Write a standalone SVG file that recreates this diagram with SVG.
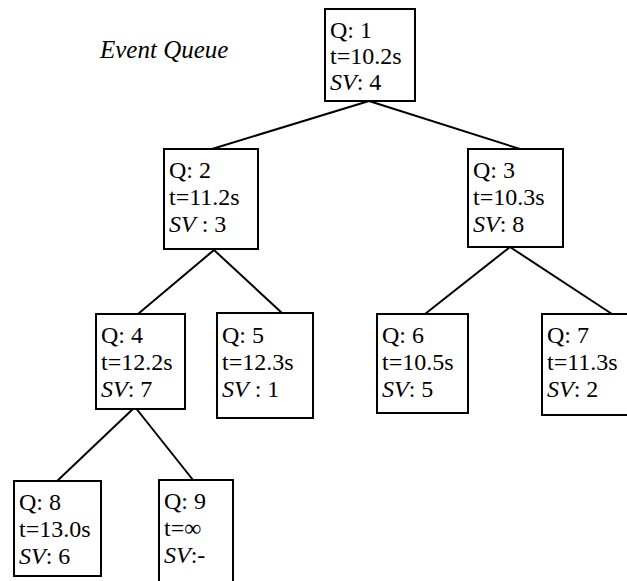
<svg xmlns="http://www.w3.org/2000/svg" width="627" height="581" viewBox="0 0 627 581">
<style>
.box{fill:#fff;stroke:#000;stroke-width:2}
.i{font-style:italic}
.edge{stroke:#000;stroke-width:2;fill:none}
</style>
<rect width="627" height="581" fill="#fff"/>
<g font-family="Liberation Serif, Times New Roman, Times, DejaVu Serif, serif" font-size="24" fill="#000">
<text x="100" y="58" font-size="25" font-style="italic">Event Queue</text>
<g id="connectors">
<line class="edge" x1="369" y1="101" x2="212" y2="149"/>
<line class="edge" x1="369" y1="101" x2="520" y2="149"/>
<line class="edge" x1="214" y1="250" x2="138" y2="314"/>
<line class="edge" x1="214" y1="250" x2="282" y2="313"/>
<line class="edge" x1="510" y1="247" x2="425" y2="314"/>
<line class="edge" x1="510" y1="247" x2="612" y2="314"/>
<line class="edge" x1="135" y1="407" x2="55" y2="483"/>
<line class="edge" x1="135" y1="407" x2="193" y2="480"/>
</g>
<g id="n1">
<rect class="box" x="325" y="9" width="90" height="92"/>
<text x="330" y="38">Q: 1</text>
<text x="330" y="64">t=10.2s</text>
<text x="330" y="90"><tspan class="i">SV</tspan>: 4</text>
</g>
<g id="n2">
<rect class="box" x="164" y="149" width="94" height="100"/>
<text x="169" y="178">Q: 2</text>
<text x="169" y="205">t=11.2s</text>
<text x="169" y="232"><tspan class="i">SV</tspan> : 3</text>
</g>
<g id="n3">
<rect class="box" x="468" y="149" width="95" height="98"/>
<text x="473" y="178">Q: 3</text>
<text x="473" y="205">t=10.3s</text>
<text x="473" y="232"><tspan class="i">SV</tspan>: 8</text>
</g>
<g id="n4">
<rect class="box" x="96" y="314" width="89" height="95"/>
<text x="101" y="343">Q: 4</text>
<text x="101" y="370">t=12.2s</text>
<text x="101" y="397"><tspan class="i">SV</tspan>: 7</text>
</g>
<g id="n5">
<rect class="box" x="217" y="313" width="96" height="105"/>
<text x="222" y="343">Q: 5</text>
<text x="222" y="370">t=12.3s</text>
<text x="222" y="397"><tspan class="i">SV</tspan> : 1</text>
</g>
<g id="n6">
<rect class="box" x="377" y="314" width="91" height="99"/>
<text x="382" y="343">Q: 6</text>
<text x="382" y="370">t=10.5s</text>
<text x="382" y="397"><tspan class="i">SV</tspan>: 5</text>
</g>
<g id="n7">
<rect class="box" x="542" y="314" width="86" height="101"/>
<text x="547" y="343">Q: 7</text>
<text x="547" y="370">t=11.3s</text>
<text x="547" y="397"><tspan class="i">SV</tspan>: 2</text>
</g>
<g id="n8">
<rect class="box" x="14" y="481" width="87" height="95"/>
<text x="19" y="510">Q: 8</text>
<text x="19" y="537">t=13.0s</text>
<text x="19" y="564"><tspan class="i">SV</tspan>: 6</text>
</g>
<g id="n9">
<rect class="box" x="159" y="480" width="74" height="112"/>
<text x="164" y="509">Q: 9</text>
<text x="164" y="536">t=∞</text>
<text x="164" y="563"><tspan class="i">SV</tspan>:-</text>
</g>
</g>
</svg>
